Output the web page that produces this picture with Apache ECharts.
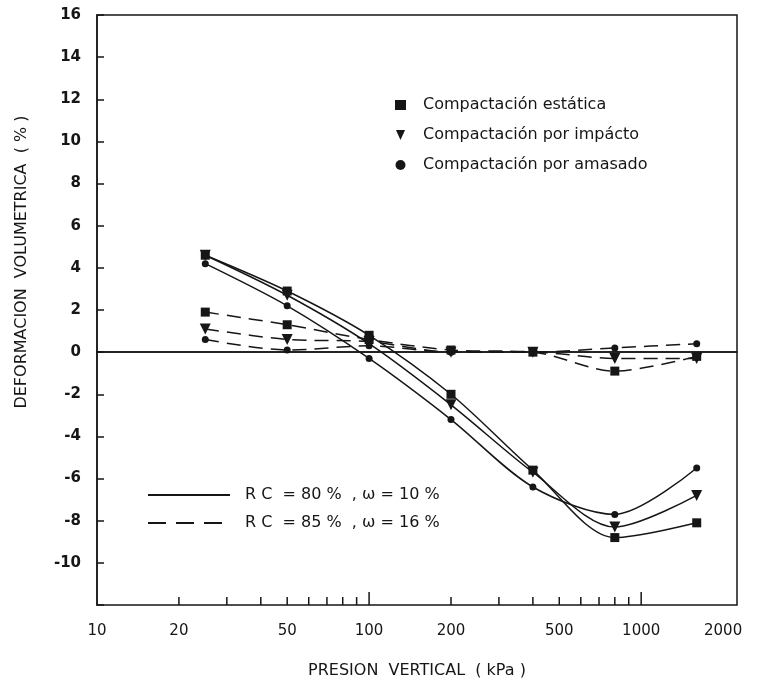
<!DOCTYPE html>
<html>
<head>
<meta charset="utf-8">
<style>
  html, body { margin: 0; padding: 0; background: #fff; }
  #main { width: 757px; height: 684px; }
</style>
<script src="https://cdn.jsdelivr.net/npm/echarts@6/dist/echarts.min.js"></script>
</head>
<body>
<div id="main"></div>
<script>
// presiones (kPa) de cada ensayo
const presion = [25, 50, 100, 200, 400, 800, 1600];

// RC = 80 %, w = 10 %  (linea continua)
const estatica80 = [4.6, 2.9, 0.8, -2.0, -5.6, -8.8, -8.1];
const impacto80 = [4.6, 2.7, 0.4, -2.5, -5.7, -8.3, -6.8];
const amasado80 = [4.2, 2.2, -0.3, -3.2, -6.4, -7.7, -5.5];

// RC = 85 %, w = 16 %  (linea discontinua)
const estatica85 = [1.9, 1.3, 0.6, 0.1, 0.0, -0.9, -0.2];
const impacto85 = [1.1, 0.6, 0.5, 0.0, 0.0, -0.3, -0.3];
const amasado85 = [0.6, 0.1, 0.3, 0.0, 0.0, 0.2, 0.4];

// marcas y etiquetas del eje x
const xMarcas = [20, 30, 40, 50, 60, 70, 80, 90, 100, 200, 300, 400, 500, 600, 700, 800, 900, 1000];
const xEtiquetas = [10, 20, 50, 100, 200, 500, 1000, 2000];

const nombres = ['Compactación estática', 'Compactación por impácto', 'Compactación por amasado'];
const curvas = ['R C  = 80 %  , ω = 10 %', 'R C  = 85 %  , ω = 16 %'];

const negro = '#161616';
const fuente = "'DejaVu Sans', sans-serif";
const Y_MIN = -12;

let myChart = echarts.init(document.getElementById('main'));

function pares(vals) {
    return presion.map((p, i) => [p, vals[i]]);
}

const simbolos = [
    {symbol: 'rect', symbolSize: 9, symbolRotate: 0},
    {symbol: 'triangle', symbolSize: 11, symbolRotate: 180},
    {symbol: 'circle', symbolSize: 7, symbolRotate: 0}
];

function serie(nombre, vals, k, dashed) {
    return {
        name: nombre,
        type: 'line',
        data: pares(vals),
        smooth: 0.3,
        symbol: simbolos[k].symbol,
        symbolSize: simbolos[k].symbolSize,
        symbolRotate: simbolos[k].symbolRotate,
        itemStyle: {color: negro},
        lineStyle: {color: negro, width: 1.5, type: dashed ? [14, 8] : 'solid'},
        z: 3
    };
}

let series = [
    serie(nombres[0], estatica80, 0, false),
    serie(nombres[1], impacto80, 1, false),
    serie(nombres[2], amasado80, 2, false),
    serie(nombres[0], estatica85, 0, true),
    serie(nombres[1], impacto85, 1, true),
    serie(nombres[2], amasado85, 2, true),
    {
        name: curvas[0], type: 'line', data: [], symbol: 'none',
        itemStyle: {color: negro},
        lineStyle: {color: negro, width: 1.5, type: 'solid'}
    },
    {
        name: curvas[1], type: 'line', data: [], symbol: 'none',
        itemStyle: {color: negro},
        lineStyle: {color: negro, width: 1.5, type: [18, 10]}
    },
    {
        // linea de cero
        type: 'line', data: [], silent: true,
        markLine: {
            silent: true, symbol: 'none', label: {show: false},
            lineStyle: {color: negro, width: 1.5, type: 'solid'},
            data: [{yAxis: 0}]
        }
    },
    {
        // marcas del eje x logaritmico
        type: 'custom',
        silent: true,
        clip: false,
        data: xMarcas.map(v => [v, Y_MIN]),
        renderItem: function (params, api) {
            const v = api.value(0);
            const pt = api.coord([v, Y_MIN]);
            const largo = (v === 100 || v === 1000) ? 13 : 8;
            return {
                type: 'line',
                shape: {x1: pt[0], y1: pt[1], x2: pt[0], y2: pt[1] - largo},
                style: {stroke: negro, lineWidth: 1.5}
            };
        }
    },
    {
        // etiquetas del eje x
        type: 'custom',
        silent: true,
        clip: false,
        data: xEtiquetas.map(v => [v, Y_MIN]),
        renderItem: function (params, api) {
            const v = api.value(0);
            const pt = api.coord([v, Y_MIN]);
            return {
                type: 'text',
                x: pt[0],
                y: pt[1] + 26,
                style: {
                    text: String(v),
                    fill: negro,
                    font: '15px ' + fuente,
                    align: 'center',
                    verticalAlign: 'middle'
                }
            };
        }
    }
];

option = {
    backgroundColor: '#ffffff',
    animation: false,
    textStyle: {fontFamily: fuente},
    grid: {
        left: 97,
        top: 15,
        right: 20,
        bottom: 78,
        show: true,
        borderColor: negro,
        borderWidth: 1.5
    },
    legend: [
        {
            data: [
                {name: nombres[0], icon: 'rect'},
                {name: nombres[1], icon: 'path://M0,0 L10,0 L5,11 Z'},
                {name: nombres[2], icon: 'circle'}
            ],
            orient: 'vertical',
            left: 390,
            top: 92,
            itemWidth: 11,
            itemHeight: 10,
            itemGap: 14,
            textStyle: {color: negro, fontSize: 16, fontFamily: fuente, padding: [0, 0, 0, 12]}
        },
        {
            data: curvas,
            orient: 'vertical',
            left: 142,
            top: 482,
            itemWidth: 82,
            itemHeight: 14,
            itemGap: 12,
            itemStyle: {opacity: 0},
            textStyle: {color: negro, fontSize: 16, fontFamily: fuente, padding: [0, 0, 0, 10]}
        }
    ],
    xAxis: {
        type: 'log',
        logBase: 10,
        min: 10,
        max: 2250,
        name: 'PRESION  VERTICAL  ( kPa )',
        nameLocation: 'middle',
        nameGap: 58,
        nameTextStyle: {color: negro, fontSize: 16, fontFamily: fuente},
        axisLine: {lineStyle: {color: negro, width: 1.5}},
        axisTick: {show: false},
        axisLabel: {show: false},
        splitLine: {show: false}
    },
    yAxis: {
        type: 'value',
        min: Y_MIN,
        max: 16,
        interval: 2,
        axisLine: {show: true, lineStyle: {color: negro, width: 1.5}},
        axisTick: {show: true, inside: true, length: 7, lineStyle: {color: negro, width: 1.5}},
        axisLabel: {
            color: negro,
            fontSize: 15,
            fontWeight: 'bold',
            fontFamily: fuente,
            margin: 16,
            formatter: function (v) {
                return v === Y_MIN ? '' : String(v);
            }
        },
        splitLine: {show: false}
    },
    graphic: [
        {
            type: 'text',
            x: 22,
            y: 262,
            rotation: Math.PI / 2,
            style: {
                text: 'DEFORMACION  VOLUMETRICA  ( % )',
                fill: negro,
                font: '16px ' + fuente,
                align: 'center',
                verticalAlign: 'middle'
            }
        }
    ],
    series: series
};

myChart.setOption(option);
</script>
</body>
</html>
